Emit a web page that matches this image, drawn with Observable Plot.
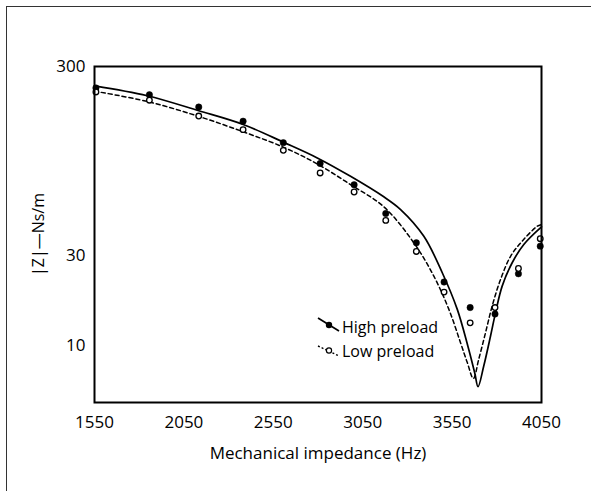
<!DOCTYPE html>
<html><head><meta charset="utf-8">
<script src="https://cdn.jsdelivr.net/npm/d3@7"></script>
<script src="https://cdn.jsdelivr.net/npm/@observablehq/plot@0.6"></script>
<style>
body{margin:0;background:#fff;}
#wrap{position:relative;width:591px;height:491px;overflow:hidden;font-family:"Open Sans",sans-serif;background:#fff;}
#border{position:absolute;left:6px;top:6px;width:600px;height:600px;border-left:1.5px solid #333;border-top:1.5px solid #333;box-sizing:border-box;}
#chart{position:absolute;left:0;top:0;}
#legend{position:absolute;left:0;top:0;}
</style></head><body>
<div id="wrap"><div id="border"></div><div id="chart"></div><svg id="legend" width="591" height="491"></svg></div>
<script>
// measured points
const pointFreq = [1558, 1857, 2133, 2381, 2606, 2812, 3002, 3179, 3350, 3505, 3651, 3790, 3921, 4043];
const highPoints = [231, 212.6, 183, 154, 118.6, 92, 71, 50, 35, 21.7, 15.9, 14.7, 24, 33.6];
const lowPoints = [220, 199, 164, 139, 108, 82, 65, 46, 31.5, 19.2, 13.2, 15.9, 25.6, 36.8];

// fitted curves
const highFitFreq = [1550, 1845, 2133, 2385, 2609, 2796, 2982, 3168, 3262, 3392, 3495, 3579, 3638, 3677, 3695, 3727, 3765, 3793, 3830, 3886, 3951, 4050];
const highFit = [237, 210, 175, 147.6, 119, 98.5, 78.7, 61.3, 52.5, 37.9, 24.3, 15.55, 9.95, 7.14, 6.06, 7.8, 11.24, 14.94, 20.65, 27.45, 34.3, 42.5];
const lowFitFreq = [1550, 1845, 2133, 2385, 2609, 2796, 2982, 3168, 3336, 3448, 3532, 3597, 3635, 3669, 3699, 3737, 3774, 3821, 3877, 3942, 4026, 4050];
const lowFit = [222, 196, 163.3, 135, 112, 91.5, 71.1, 54.3, 35, 23.3, 15.55, 10.37, 8.13, 6.7, 8.47, 11.71, 16.19, 22.4, 29.7, 35.7, 42.8, 43.7];

const xTicks = [1550, 2050, 2550, 3050, 3550, 4050];
const yTicks = [10, 30, 300];
const seriesNames = ["High preload", "Low preload"];

const highPts = pointFreq.map((f, i) => ({f, v: highPoints[i]}));
const lowPts = pointFreq.map((f, i) => ({f, v: lowPoints[i]}));
const highLine = highFitFreq.map((f, i) => ({f, v: highFit[i]}));
const lowLine = lowFitFreq.map((f, i) => ({f, v: lowFit[i]}));

const plot = Plot.plot({
  width: 591, height: 491,
  marginLeft: 94, marginRight: 50, marginTop: 66, marginBottom: 89,
  style: {fontFamily: "'Open Sans', sans-serif", fontSize: "17px", background: "transparent", color: "#000"},
  x: {domain: [1550, 4050], ticks: xTicks, tickFormat: d => String(d), tickSize: 0, tickPadding: 13,
      label: "Mechanical impedance (Hz)", labelAnchor: "center", labelOffset: 56, labelArrow: "none"},
  y: {type: "log", domain: [5, 300], ticks: yTicks, tickFormat: d => String(d), tickSize: 0, tickPadding: 9,
      label: "|Z|—Ns/m", labelAnchor: "center", labelOffset: 62, labelArrow: "none"},
  marks: [
    Plot.line(lowLine, {x: "f", y: "v", stroke: "#000", strokeWidth: 1.5, strokeDasharray: "4,3", curve: "catmull-rom"}),
    Plot.line(highLine, {x: "f", y: "v", stroke: "#000", strokeWidth: 1.7, curve: "catmull-rom"}),
    Plot.dot(highPts, {x: "f", y: "v", r: 3.2, fill: "#000", stroke: "#000", strokeWidth: 0.5}),
    Plot.dot(lowPts, {x: "f", y: "v", r: 2.8, fill: "#fff", stroke: "#000", strokeWidth: 1.3}),
    Plot.frame({stroke: "#000", strokeWidth: 2})
  ]
});
document.getElementById("chart").appendChild(plot);
d3.select(plot).selectAll("g[aria-label='y-axis label'] text").attr("font-size", 16);

// legend
const lg = d3.select("#legend");
lg.append("line").attr("x1", 318).attr("y1", 318).attr("x2", 339).attr("y2", 331).attr("stroke", "#000").attr("stroke-width", 1.7);
lg.append("circle").attr("cx", 329).attr("cy", 325).attr("r", 3.2).attr("fill", "#000");
lg.append("text").attr("x", 342).attr("y", 333).attr("font-family", "'Open Sans', sans-serif").attr("font-size", 16).text(seriesNames[0]);
lg.append("line").attr("x1", 318).attr("y1", 346).attr("x2", 339).attr("y2", 356).attr("stroke", "#000").attr("stroke-width", 1.4).attr("stroke-dasharray", "2,2");
lg.append("circle").attr("cx", 329).attr("cy", 350.5).attr("r", 2.6).attr("fill", "#fff").attr("stroke", "#000").attr("stroke-width", 1.2);
lg.append("text").attr("x", 342).attr("y", 357).attr("font-family", "'Open Sans', sans-serif").attr("font-size", 16).text(seriesNames[1]);
</script>
</body></html>
